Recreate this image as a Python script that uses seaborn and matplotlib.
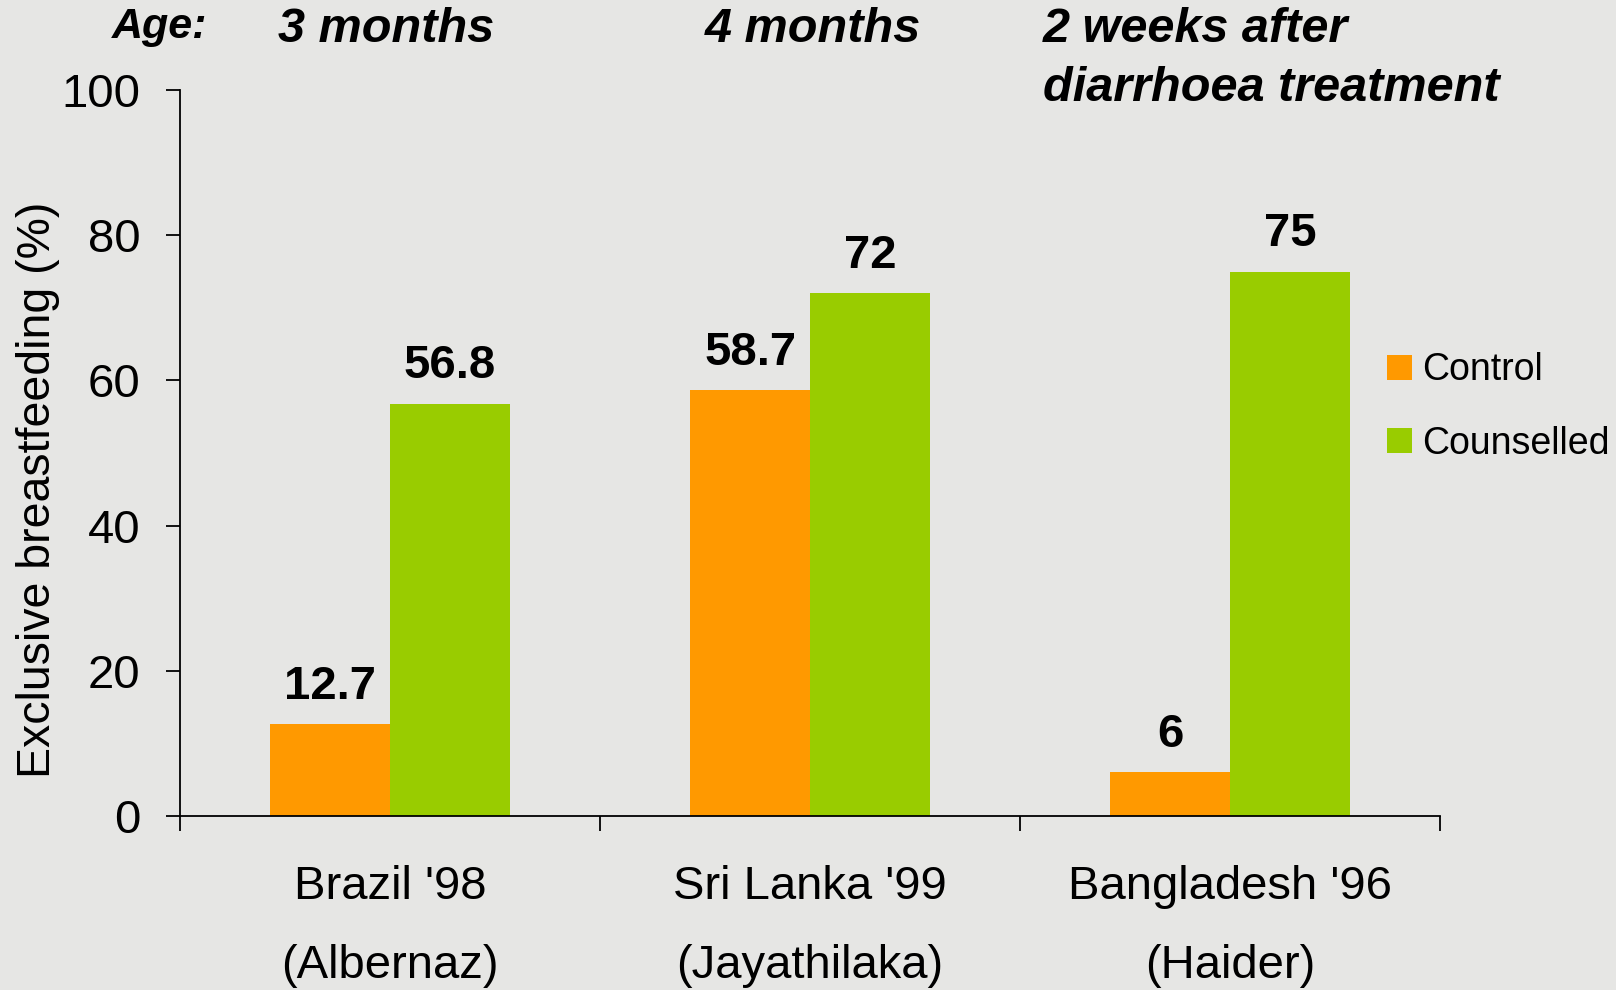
import numpy as np
import pandas as pd
import seaborn as sns
import matplotlib.pyplot as plt

# data
studies = ["Brazil '98\n(Albernaz)", "Sri Lanka '99\n(Jayathilaka)", "Bangladesh '96\n(Haider)"]
groups = ["Control", "Counselled"]
control = [12.7, 58.7, 6]
counselled = [56.8, 72, 75]
ages = ["3 months", "4 months"]

df = pd.DataFrame({
    "study": studies * 2,
    "group": ["Control"] * 3 + ["Counselled"] * 3,
    "value": control + counselled,
})

sns.set_style("ticks")
plt.rcParams['font.family'] = ['Liberation Sans', 'DejaVu Sans']
plt.rcParams['text.color'] = 'black'
plt.rcParams['xtick.color'] = 'black'
plt.rcParams['ytick.color'] = 'black'
plt.rcParams['axes.labelcolor'] = 'black'

bg = "#e6e6e4"
fig = plt.figure(figsize=(16.16, 9.9), dpi=100, facecolor=bg)
W, H = 1616, 990
ax = fig.add_axes([180 / W, 1 - 816 / H, 1260 / W, 726 / H])
ax.set_facecolor(bg)

pal = {"Control": "#ff9900", "Counselled": "#99cc00"}
sns.barplot(data=df, x="study", y="value", hue="group", hue_order=groups,
            palette=pal, width=0.57, gap=0, saturation=1, linewidth=0, ax=ax)

for c in ax.containers:
    ax.bar_label(c, fmt="%g", padding=11, fontsize=34, fontweight="bold")

ax.set_xlim(-0.5, 2.5)
ax.set_ylim(0, 100)
ax.set_yticks(range(0, 101, 20))
ax.tick_params(axis="y", labelsize=34, length=10, width=1.3, pad=18.5, direction="out")

# category boundaries as major ticks, labels on minor ticks
ax.set_xticks([-0.5, 0.5, 1.5, 2.5])
ax.set_xticklabels([])
ax.set_xticks([0, 1, 2], minor=True)
ax.set_xticklabels(studies, minor=True, fontsize=34, linespacing=2.04)
ax.tick_params(axis="x", which="major", length=11, width=1.3, direction="out")
ax.tick_params(axis="x", which="minor", length=0, pad=35)

sns.despine(ax=ax)
for s in ["left", "bottom"]:
    ax.spines[s].set_linewidth(1.3)
    ax.spines[s].set_color("black")

ax.set_xlabel("")
ax.set_ylabel("Exclusive breastfeeding (%)", fontsize=33.5)
ax.yaxis.set_label_coords(-0.095, 0.449)

leg = ax.legend(loc="center left", bbox_to_anchor=(1387 / W, 1 - 407 / H),
                bbox_transform=fig.transFigure, frameon=False, fontsize=27,
                handlelength=0.66, handleheight=0.66, handletextpad=0.28,
                labelspacing=0.99, borderaxespad=0, borderpad=0)

# header row
hdr = dict(fontsize=35, fontweight="bold", fontstyle="italic", va="center")
fig.text(160 / W, 1 - 27 / H, "Age:", ha="center", **{**hdr, "fontsize": 31})
fig.text(386 / W, 1 - 30 / H, ages[0], ha="center", **hdr)
fig.text(813 / W, 1 - 30 / H, ages[1], ha="center", **hdr)
fig.text(1043 / W, 1 - 59 / H, "2 weeks after\ndiarrhoea treatment", ha="left",
         linespacing=1.38, **hdr)

plt.savefig("out.png", dpi=100, facecolor=bg)
